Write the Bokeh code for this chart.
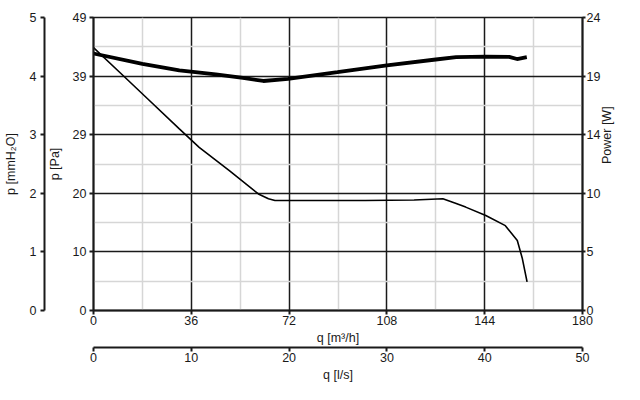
import math
from bokeh.plotting import figure
from bokeh.models import LinearAxis, Range1d, FixedTicker
from bokeh.embed import file_html
from bokeh.resources import INLINE

# ---- data ----
q_pressure = [0, 10, 20, 31.6, 38.9, 50, 60.7, 64.4, 66.8, 80, 100, 118, 128.6, 133.5, 137, 144.4, 151.6, 156, 157.8, 159.6]
pressure_pa = [44.0, 39.7, 35.4, 30.4, 27.3, 23.4, 19.5, 18.7, 18.4, 18.4, 18.4, 18.5, 18.7, 17.9, 17.3, 15.9, 14.2, 11.7, 8.8, 4.8]

q_power = [0, 18, 31.6, 45, 55, 62.5, 71.6, 89.8, 108, 126, 133.5, 144.4, 153, 155.9, 159.5]
power_w = [21.05, 20.2, 19.66, 19.34, 19.05, 18.8, 18.98, 19.52, 20.07, 20.56, 20.75, 20.8, 20.78, 20.6, 20.75]

x_ticks_m3h = [0, 36, 72, 108, 144, 180]
x_minor_m3h = [18, 54, 90, 126, 162]
ls_ticks = [0, 10, 20, 30, 40, 50]
mm_ticks = [0, 1, 2, 3, 4, 5]
pa_labels = ["0", "10", "20", "29", "39", "49"]
power_ticks = [0, 4.8, 9.6, 14.4, 19.2, 24]
power_labels = ["0", "5", "10", "14", "19", "24"]

PA_PER_MM = 9.80665
pa_ticks = [t * PA_PER_MM for t in mm_ticks]
pa_minor = [(t + 0.5) * PA_PER_MM for t in mm_ticks[:-1]]

FONT = "Liberation Sans"
TXT = "#1a1a1a"

p = figure(width=624, height=384,
           x_range=Range1d(0, 180), y_range=Range1d(0, 5 * PA_PER_MM),
           output_backend="svg", toolbar_location=None,
           min_border_left=93, min_border_right=36, min_border_top=17, min_border_bottom=74)
p.extra_y_ranges = {"mm": Range1d(0, 5), "pw": Range1d(0, 24)}
p.extra_x_ranges = {"ls": Range1d(0, 50)}

p.background_fill_color = "white"
p.border_fill_color = "white"
p.outline_line_color = "#1a1a1a"
p.outline_line_width = 1.5


def style_axis(ax, label, std=3, lstd=4, tick_out=4):
    ax.axis_label = label
    ax.axis_label_text_font = FONT
    ax.axis_label_text_font_size = "12.5px"
    ax.axis_label_text_font_style = "normal"
    ax.axis_label_text_color = TXT
    ax.major_label_text_font = FONT
    ax.major_label_text_font_size = "12.5px"
    ax.major_label_text_color = TXT
    ax.axis_line_color = "#1a1a1a"
    ax.axis_line_width = 2
    ax.major_tick_line_color = "#1a1a1a"
    ax.major_tick_line_width = 2
    ax.major_tick_out = tick_out
    ax.major_tick_in = 0
    ax.minor_tick_line_color = None
    ax.major_label_standoff = std
    ax.axis_label_standoff = lstd


# main x axis (m3/h)
xa = p.xaxis[0]
xa.ticker = FixedTicker(ticks=x_ticks_m3h, minor_ticks=[])
style_axis(xa, "q [m³/h]", 1, 3)

# second x axis (l/s)
ls_axis = LinearAxis(x_range_name="ls", ticker=FixedTicker(ticks=ls_ticks, minor_ticks=[]))
style_axis(ls_axis, "q [l/s]", 1, 3)
p.add_layout(ls_axis, "below")

# Pa axis (inner left)
ya = p.yaxis[0]
ya.ticker = FixedTicker(ticks=pa_ticks, minor_ticks=[])
ya.major_label_overrides = {t: l for t, l in zip(pa_ticks, pa_labels)}
style_axis(ya, "p [Pa]", 3, 8)

# mmH2O axis (outer left)
mm_axis = LinearAxis(y_range_name="mm", ticker=FixedTicker(ticks=mm_ticks, minor_ticks=[]))
style_axis(mm_axis, "p [mmH₂O]", 4, 9)
p.add_layout(mm_axis, "left")

# power axis (right)
pw_axis = LinearAxis(y_range_name="pw", ticker=FixedTicker(ticks=power_ticks, minor_ticks=[]))
pw_axis.major_label_overrides = {t: l for t, l in zip(power_ticks, power_labels)}
style_axis(pw_axis, "Power [W]", 1, 4, tick_out=3)
pw_axis.axis_label_orientation = math.pi / 2
p.add_layout(pw_axis, "right")

# grids
p.xgrid.ticker = FixedTicker(ticks=x_ticks_m3h, minor_ticks=x_minor_m3h)
p.ygrid.ticker = FixedTicker(ticks=pa_ticks, minor_ticks=pa_minor)
for g in (p.xgrid[0], p.ygrid[0]):
    g.grid_line_color = "#1a1a1a"
    g.grid_line_width = 1.5
    g.minor_grid_line_color = "#d6d6d6"
    g.minor_grid_line_width = 1.5

# curves
p.line(q_power, power_w, y_range_name="pw", line_color="black", line_width=3.8)
p.line(q_pressure, pressure_pa, line_color="black", line_width=1.6)

open("out.html", "w").write(file_html(p, INLINE))
